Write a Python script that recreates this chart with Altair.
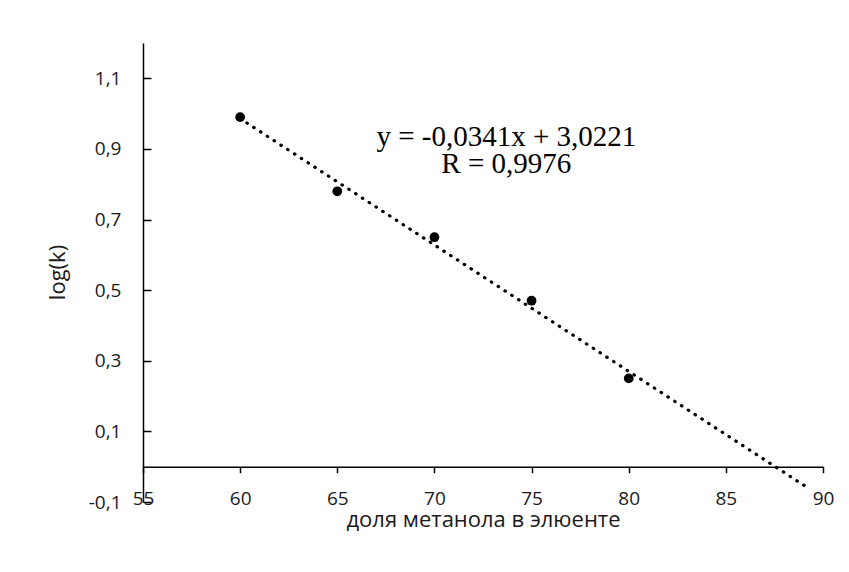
import altair as alt
import pandas as pd

# ---- data ----
METHANOL = [60, 65, 70, 75, 80]
LOGK = [0.99, 0.78, 0.65, 0.47, 0.25]
X_TICKS = [55, 60, 65, 70, 75, 80, 85, 90]
Y_TICKS = [-0.1, 0.1, 0.3, 0.5, 0.7, 0.9, 1.1]
X_DOMAIN = [55, 90]
Y_DOMAIN = [-0.1, 1.2]
TREND_EXTENT = [60, 89.3]
EQUATION = ["y = -0,0341x + 3,0221", "R = 0,9976"]
EQ_ANCHOR = [73.7, 0.908]
X_TITLE = "доля метанола в элюенте"
Y_TITLE = "log(k)"

# ---- layout ----
W, H = 680, 459
FONT = "Open Sans"
LABEL_SIZE = 19
TITLE_SIZE = 22
ZERO_OFFSET = -H * (0 - Y_DOMAIN[0]) / (Y_DOMAIN[1] - Y_DOMAIN[0])

df = pd.DataFrame({"x": METHANOL, "y": LOGK})
base = alt.Chart(df)

xs = alt.Scale(domain=X_DOMAIN, nice=False, zero=False)
ys = alt.Scale(domain=Y_DOMAIN, nice=False, zero=False)

comma = "replace(replace(format(datum.value, '.1f'), '.', ','), '\u2212', '-')"

common = dict(grid=False, labelFont=FONT, labelFontSize=LABEL_SIZE, labelColor="#1a1a1a",
              titleFont=FONT, titleFontSize=TITLE_SIZE, titleFontWeight="normal",
              titleColor="#1a1a1a", labelFlush=False, labelOverlap=False, labelBound=False)

points = base.mark_circle(size=95, color="black", opacity=1).encode(
    x=alt.X("x:Q", scale=xs, axis=alt.Axis(
        values=X_TICKS, orient="bottom", offset=-4, domain=False, ticks=False,
        tickSize=0, labelPadding=0, labelBaseline="middle", format="d",
        title=X_TITLE, titleX=W / 2, titleY=28, titleBaseline="alphabetic",
        titleAlign="center", **common)),
    y=alt.Y("y:Q", scale=ys, axis=alt.Axis(
        values=Y_TICKS, orient="left", domain=False, ticks=False, tickSize=0,
        labelPadding=22, labelExpr=comma, title=Y_TITLE, titleX=-86, titleY=229,
        titleBaseline="middle", titleAlign="center", **common)),
)

trend = base.transform_regression("x", "y", extent=TREND_EXTENT).mark_line(
    color="black", strokeWidth=3.2, strokeDash=[0.5, 7.6], strokeCap="round"
).encode(
    x=alt.X("x:Q", scale=xs, axis=alt.Axis(
        values=X_TICKS, orient="bottom", offset=ZERO_OFFSET, labels=False,
        domain=True, ticks=True, tickSize=6, domainColor="black", tickColor="black",
        domainWidth=1.5, tickWidth=1.5, title=None, grid=False)),
    y=alt.Y("y:Q", scale=ys, axis=alt.Axis(
        values=Y_TICKS, orient="right", offset=-W, labels=False,
        domain=True, ticks=True, tickSize=8, domainColor="black", tickColor="black",
        domainWidth=1.5, tickWidth=1.5, title=None, grid=False)),
)

text = alt.Chart(pd.DataFrame({"d": [0]})).mark_text(
    text=EQUATION, font="Liberation Serif", fontSize=29, align="center",
    baseline="alphabetic", lineHeight=27, color="black"
).encode(
    x=alt.XDatum(EQ_ANCHOR[0], type="quantitative", scale=xs, axis=None),
    y=alt.YDatum(EQ_ANCHOR[1], type="quantitative", scale=ys, axis=None),
)

chart = alt.layer(points, trend, text).resolve_axis(x="independent", y="independent").properties(
    width=W, height=H,
    autosize=alt.AutoSizeParams(type="none"),
    padding={"left": 143, "top": 43, "right": 26, "bottom": 70},
    background="white",
).configure_view(stroke=None)

chart.save("out.html", embed_options={"renderer": "svg", "actions": False})
